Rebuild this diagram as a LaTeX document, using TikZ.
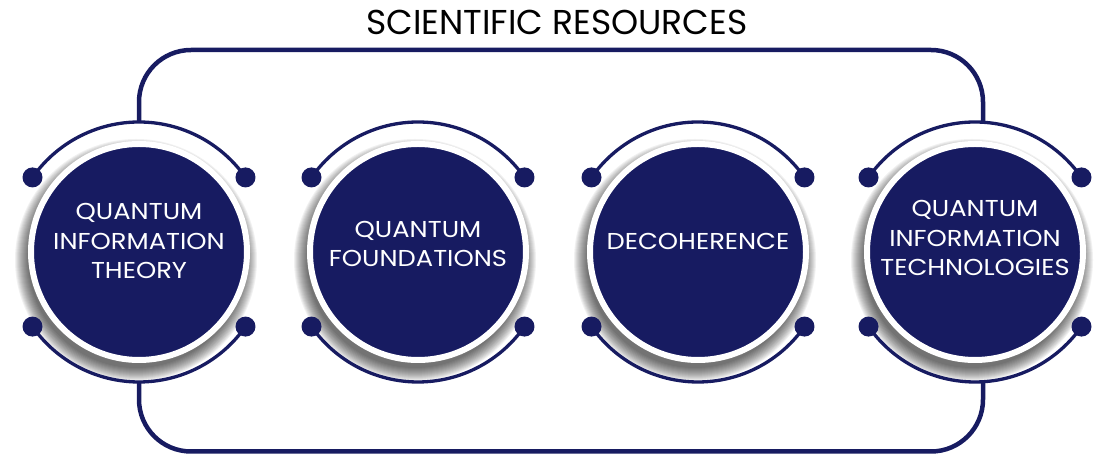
\documentclass[tikz,border=0pt]{standalone}
\usepackage{fontspec}
\setmainfont{Poppins}
\newfontfamily\widefont[FakeStretch=1.12]{Poppins}
\definecolor{navy}{RGB}{23,27,97}

\begin{document}
\begin{tikzpicture}[x=1pt,y=1pt,
disk/.style={%
circle,
fill=navy,
draw=white,
line width=6pt,
minimum size=216pt,
inner sep=0pt,
},
topic/.style={%
text=white,
align=center,
inner sep=0pt,
font=\widefont\fontsize{23}{29.5}\selectfont,
},
dot/.style={%
circle,
fill=navy,
minimum size=20pt,
inner sep=0pt,
},
ring/.style={%
draw=navy,
line width=3.3pt,
},
frame/.style={%
draw=navy,
line width=4.5pt,
rounded corners=52pt,
},
]
\useasboundingbox (0,0) rectangle (1101,454);
%% Title
\node[font=\fontsize{34.5}{40}\selectfont,anchor=base](title)at(557,419){SCIENTIFIC RESOURCES};
%% Disks with shadow, dots and arcs
\foreach \x/\n in {139/1,418/2,698/3,975/4}{%
\foreach \r in {108,...,121}{%
\fill[black,opacity=0.055](\x-3,194)circle(\r);
}
\node[disk](c\n)at(\x,202){};
\foreach \a in {35,145,215,325}{%
\node[dot](c\n-\a)at([shift={(\a:130)}]c\n.center){};
}
\draw[ring](c\n-145.center)arc(145:35:130);
\draw[ring](c\n-215.center)arc(215:325:130);
}
%% Frame
\coordinate(n1)at([yshift=130]c1.center);
\coordinate(n4)at([shift={(8,130)}]c4.center);
\coordinate(s1)at([yshift=-130]c1.center);
\coordinate(s4)at([shift={(8,-130)}]c4.center);
\draw[frame](n1)--++(0,72)-|(n4);
\draw[frame](s1)--++(0,-69.5)-|(s4);
%% Topics
\node[topic](t1)at([yshift=11]c1.center){QUANTUM\\INFORMATION\\THEORY};
\node[topic](t2)at([yshift=8]c2.center){QUANTUM\\FOUNDATIONS};
\node[topic](t3)at([yshift=11]c3.center){DECOHERENCE};
\node[topic](t4)at([yshift=14]c4.center){QUANTUM\\INFORMATION\\TECHNOLOGIES};
\end{tikzpicture}
\end{document}
